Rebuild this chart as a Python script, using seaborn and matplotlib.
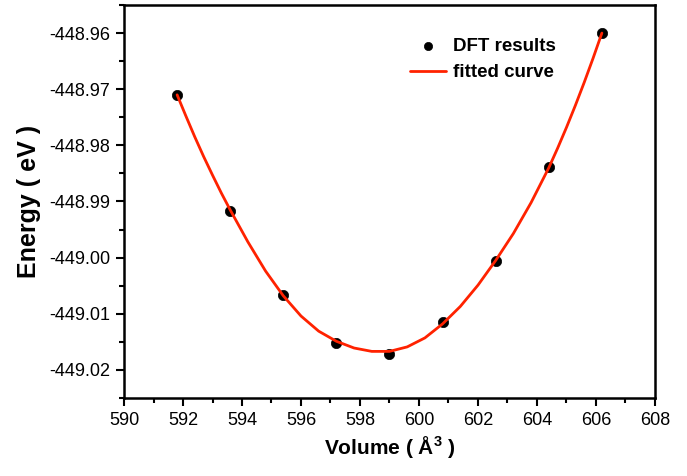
import numpy as np
import pandas as pd
import matplotlib
matplotlib.use("Agg")
import matplotlib.pyplot as plt
from matplotlib.ticker import MultipleLocator, FormatStrFormatter
import seaborn as sns

# DFT points
volume_dft = [591.8, 593.6, 595.4, 597.2, 599.0, 600.8, 602.6, 604.4, 606.2]
energy_dft = [-448.9710, -448.9917, -449.0067, -449.0152, -449.0171,
              -449.0114, -449.0006, -448.9839, -448.9600]

# fitted curve, sampled by eye along the red line
volume_fit = [591.8, 592.1, 592.4, 592.7, 593.0, 593.3, 593.6, 594.2, 594.8,
              595.4, 596.0, 596.6, 597.2, 597.8, 598.4, 599.0, 599.6, 600.2,
              600.8, 601.4, 602.0, 602.6, 603.2, 603.8, 604.4, 604.7, 605.0,
              605.3, 605.6, 605.9, 606.2]
energy_fit = [-448.9710, -448.9748, -448.9785, -448.9820, -448.9853, -448.9885,
              -448.9915, -448.9972, -449.0024, -449.0068, -449.0104, -449.0131,
              -449.0149, -449.0161, -449.0167, -449.0167, -449.0159, -449.0143,
              -449.0118, -449.0087, -449.0049, -449.0005, -448.9957, -448.9902,
              -448.9840, -448.9805, -448.9768, -448.9729, -448.9688, -448.9645,
              -448.9600]

df_dft = pd.DataFrame({"volume": volume_dft, "energy": energy_dft})
df_fit = pd.DataFrame({"volume": volume_fit, "energy": energy_fit})

sns.set_style("ticks")
plt.rcParams["font.family"] = ["Liberation Sans", "DejaVu Sans"]
plt.rcParams["mathtext.fontset"] = "custom"
plt.rcParams["mathtext.rm"] = "Liberation Sans"
plt.rcParams["mathtext.bf"] = "Liberation Sans:bold"
plt.rcParams["text.color"] = "black"
plt.rcParams["axes.labelcolor"] = "black"
plt.rcParams["xtick.color"] = "black"
plt.rcParams["ytick.color"] = "black"

fig = plt.figure(figsize=(6.87, 4.76), dpi=100)
ax = fig.add_axes([0.1805, 0.1639, 0.7729, 0.8256])

sns.scatterplot(data=df_dft, x="volume", y="energy", ax=ax, color="black",
                s=55, edgecolor="black", linewidth=0.5, zorder=2,
                label="DFT results")
sns.lineplot(data=df_fit, x="volume", y="energy", ax=ax, color="#ff2200",
             linewidth=2, zorder=3, label="fitted curve", sort=False)

ax.set_xlim(590, 608)
ax.set_ylim(-449.025, -448.955)
ax.xaxis.set_major_locator(MultipleLocator(2))
ax.xaxis.set_minor_locator(MultipleLocator(1))
ax.yaxis.set_major_locator(MultipleLocator(0.01))
ax.yaxis.set_minor_locator(MultipleLocator(0.005))
ax.yaxis.set_major_formatter(FormatStrFormatter("%.2f"))

ax.tick_params(which="major", direction="out", length=6, width=1.5,
               labelsize=13, top=False, right=False, pad=4, colors="black")
ax.tick_params(which="minor", direction="out", length=3.5, width=1.5,
               top=False, right=False, colors="black")
for sp in ax.spines.values():
    sp.set_linewidth(1.8)
    sp.set_color("black")

ax.set_xlabel(r"Volume ( Å$^{\mathbf{3}}$ )", fontsize=15, fontweight="bold",
              labelpad=4)
ax.set_ylabel("Energy ( eV )", fontsize=18, fontweight="bold", labelpad=6)

handles, labels = ax.get_legend_handles_labels()
leg = ax.legend(handles, labels, loc="upper left", bbox_to_anchor=(0.507, 0.96),
                frameon=False, handlelength=1.9,
                handletextpad=0.4, labelspacing=0.5, markerscale=0.8,
                prop={"weight": "bold", "size": 13.5})

fig.savefig("out.png", dpi=100)
